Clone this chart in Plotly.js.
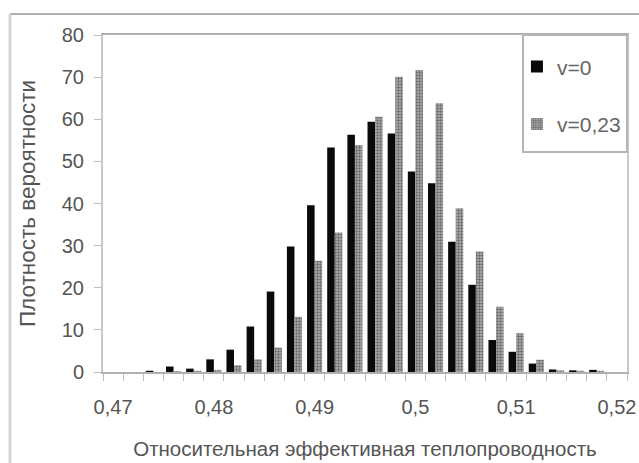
<!DOCTYPE html>
<html>
<head>
<meta charset="utf-8">
<script src="https://cdn.plot.ly/plotly-3.0.1.min.js"></script>
<style>html,body{margin:0;padding:0;background:#fff;}#chart{width:639px;height:463px;}</style>
</head>
<body>
<div id="chart"></div>
<script>
var bins = [0.470,0.472,0.474,0.476,0.478,0.480,0.482,0.484,0.486,0.488,0.490,0.492,0.494,
            0.496,0.498,0.500,0.502,0.504,0.506,0.508,0.510,0.512,0.514,0.516,0.518,0.520];
var v0 = [0,0,0.3,1.3,0.8,3.0,5.3,10.8,19.1,29.8,39.6,53.3,56.3,
          59.4,56.6,47.6,44.8,30.9,20.7,7.6,4.8,2.0,0.6,0.4,0.5,0];
var v023 = [0,0,0,0.2,0.3,0.5,1.6,3.0,5.8,13.1,26.4,33.1,53.9,
            60.6,70.1,71.7,63.8,38.9,28.6,15.5,9.2,2.9,0.4,0.3,0.3,0];
var tickVals = [0.47,0.48,0.49,0.50,0.51,0.52];
var tickText = ["0,47","0,48","0,49","0,5","0,51","0,52"];
var yTicks = [0,10,20,30,40,50,60,70,80];
var seriesNames = ["v=0","v=0,23"];
var xTitle = "Относительная эффективная теплопроводность";
var yTitle = "Плотность вероятности";

var font = "Liberation Sans, Arial, sans-serif";
var traces = [
  {type:"bar", x:bins, y:v0, name:seriesNames[0], legendgroup:"a",
   marker:{color:"#0a0a0a", line:{width:0}}},
  {type:"bar", x:bins, y:v023, name:seriesNames[1], legendgroup:"b",
   marker:{color:"#a0a0a0", line:{width:0},
           pattern:{shape:".", fgcolor:"#6a6a6a", bgcolor:"#b4b4b4", size:3, solidity:0.5}}}
];
var layout = {
  width:639, height:463,
  margin:{l:103, r:12, t:35, b:91, pad:0},
  paper_bgcolor:"#fff", plot_bgcolor:"#fff",
  font:{family:font, size:20, color:"#555"},
  barmode:"group", bargap:0.25, bargroupgap:0,
  showlegend:true,
  legend:{x:0.79, y:0.966, xanchor:"left", yanchor:"top", bgcolor:"rgba(0,0,0,0)",
          borderwidth:0, tracegroupgap:27,
          font:{family:font, size:21, color:"#666"}},
  xaxis:{type:"linear", range:[0.469,0.521], tickmode:"array", tickvals:tickVals, ticktext:tickText,
         ticks:"", showgrid:false, zeroline:false, showline:true, linecolor:"#b0b0b0", linewidth:2,
         mirror:true, ticklabelstandoff:16, tickfont:{size:20, color:"#555"},
         minor:{dtick:0.002, tick0:0.469, ticks:"outside", ticklen:7, tickwidth:1, tickcolor:"#bdbdbd", showgrid:false},
         title:{text:xTitle, font:{family:font, size:20.5, color:"#555"}, standoff:25}},
  yaxis:{range:[0,80], tickmode:"array", tickvals:yTicks, ticks:"outside", ticklen:7, tickwidth:1,
         tickcolor:"#bdbdbd", showgrid:false, zeroline:false, showline:true, linecolor:"#c8c8c8", linewidth:2,
         mirror:true, ticklabelstandoff:6, tickfont:{size:20, color:"#555"},
         title:{text:yTitle, font:{family:font, size:22.5, color:"#555"}, standoff:20}},
  shapes:[
    {type:"line", xref:"paper", yref:"paper", x0:-0.1775, x1:1.04, y0:1.0623, y1:1.0623, line:{color:"#b0b0b0", width:2}},
    {type:"line", xref:"paper", yref:"paper", x0:-0.1775, x1:-0.1775, y0:1.0623, y1:-0.3, line:{color:"#d5d5d5", width:3}},
    {type:"rect", xref:"paper", yref:"paper", layer:"above", x0:0.8015, x1:1.0, y0:0.6528, y1:1.0,
     fillcolor:"#fff", line:{color:"#b5b5b5", width:2}}
  ]
};
Plotly.newPlot("chart", traces, layout, {displayModeBar:false, staticPlot:true});
</script>
</body>
</html>
